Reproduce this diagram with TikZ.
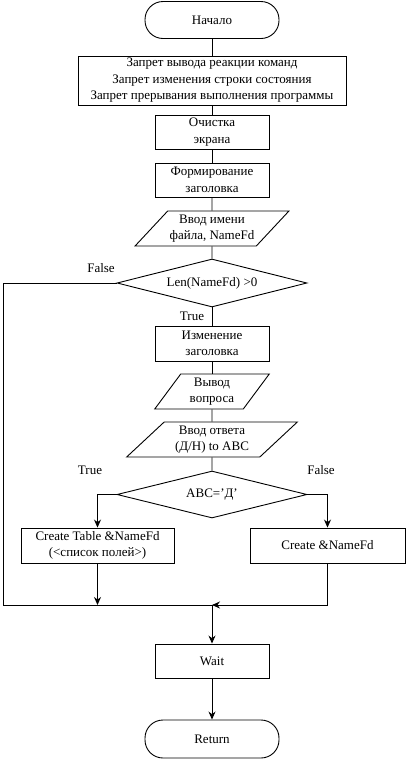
\documentclass[tikz,border=0pt]{standalone}
\usepackage{fontspec}
\setmainfont{Liberation Serif}
\usetikzlibrary{shapes.geometric,arrows.meta}

\begin{document}
\begin{tikzpicture}[x=1pt,y=-1pt,line width=0.9pt,font=\fontsize{13}{16.5}\selectfont,
  box/.style={draw,align=center,minimum width=114,minimum height=34,inner sep=1pt},
  term/.style={draw,rounded corners=18,minimum width=134,minimum height=37},
  io/.style={draw,trapezium,trapezium stretches,align=center,minimum height=35,inner sep=1pt},
  cond/.style={draw,diamond,aspect=4,inner sep=0pt,minimum width=190,minimum height=48},
  arr/.style={-{Stealth[length=8pt,width=7pt]}}]
\useasboundingbox (0,0) rectangle (407,761);
\node[term] (start) at (212,20) {Начало};
\node[box,minimum width=268,minimum height=49] (zapr) at (212,80.5) {Запрет вывода реакции команд\\Запрет изменения строки состояния\\Запрет прерывания выполнения программы};
\node[box] (clr) at (212,132) {Очистка\\экрана};
\node[box] (hdr) at (212,180) {Формирование\\заголовка};
\node[io,trapezium left angle=43,trapezium right angle=137,minimum width=154] (inp) at (212,228.5) {Ввод имени\\файла, NameFd};
\node[cond] (len) at (212,283) {Len(NameFd) >0};
\node[box,minimum height=35] (izm) at (212,343.5) {Изменение\\заголовка};
\node[io,trapezium left angle=57,trapezium right angle=123,minimum width=115] (vyv) at (212,391.5) {Вывод\\вопроса};
\node[io,trapezium left angle=45,trapezium right angle=135,minimum width=171] (otv) at (212,439.5) {Ввод ответа\\(Д/Н) to ABC};
\node[cond,minimum height=47] (abc) at (212,494.5) {ABC=’Д’};
\node[box,minimum width=153,minimum height=35] (tbl) at (97.5,545.5) {Create Table \&NameFd\\(<список полей>)};
\node[box,minimum width=155,minimum height=35] (crt) at (327.5,545.5) {Create \&NameFd};
\node[box] (wait) at (212,661) {Wait};
\node[term,minimum height=38] (ret) at (212,739) {Return};
\coordinate (m) at (212,605);
\coordinate (lft) at (3,605);
% labels
\node (f1) at (101,268) {False};
\node (t1) at (192,316) {True};
\node (t2) at (90,470) {True};
\node (f2) at (321,470) {False};
% connectors
\foreach \a/\b in {start/zapr,zapr/clr,clr/hdr,hdr/inp,inp/len,len/izm,izm/vyv,vyv/otv,otv/abc}
  \draw (\a)--(\b);
\draw (len.west) -| (lft) -- (m);
\draw[arr] (abc.west) -| (tbl.north);
\draw[arr] (abc.east) -| (crt.north);
\draw[arr] (tbl.south) -- (tbl.south |- m);
\draw[arr] (crt.south) |- (m);
\draw[arr] (m) -- (wait);
\draw[arr] (wait) -- (ret);
\end{tikzpicture}
\end{document}
